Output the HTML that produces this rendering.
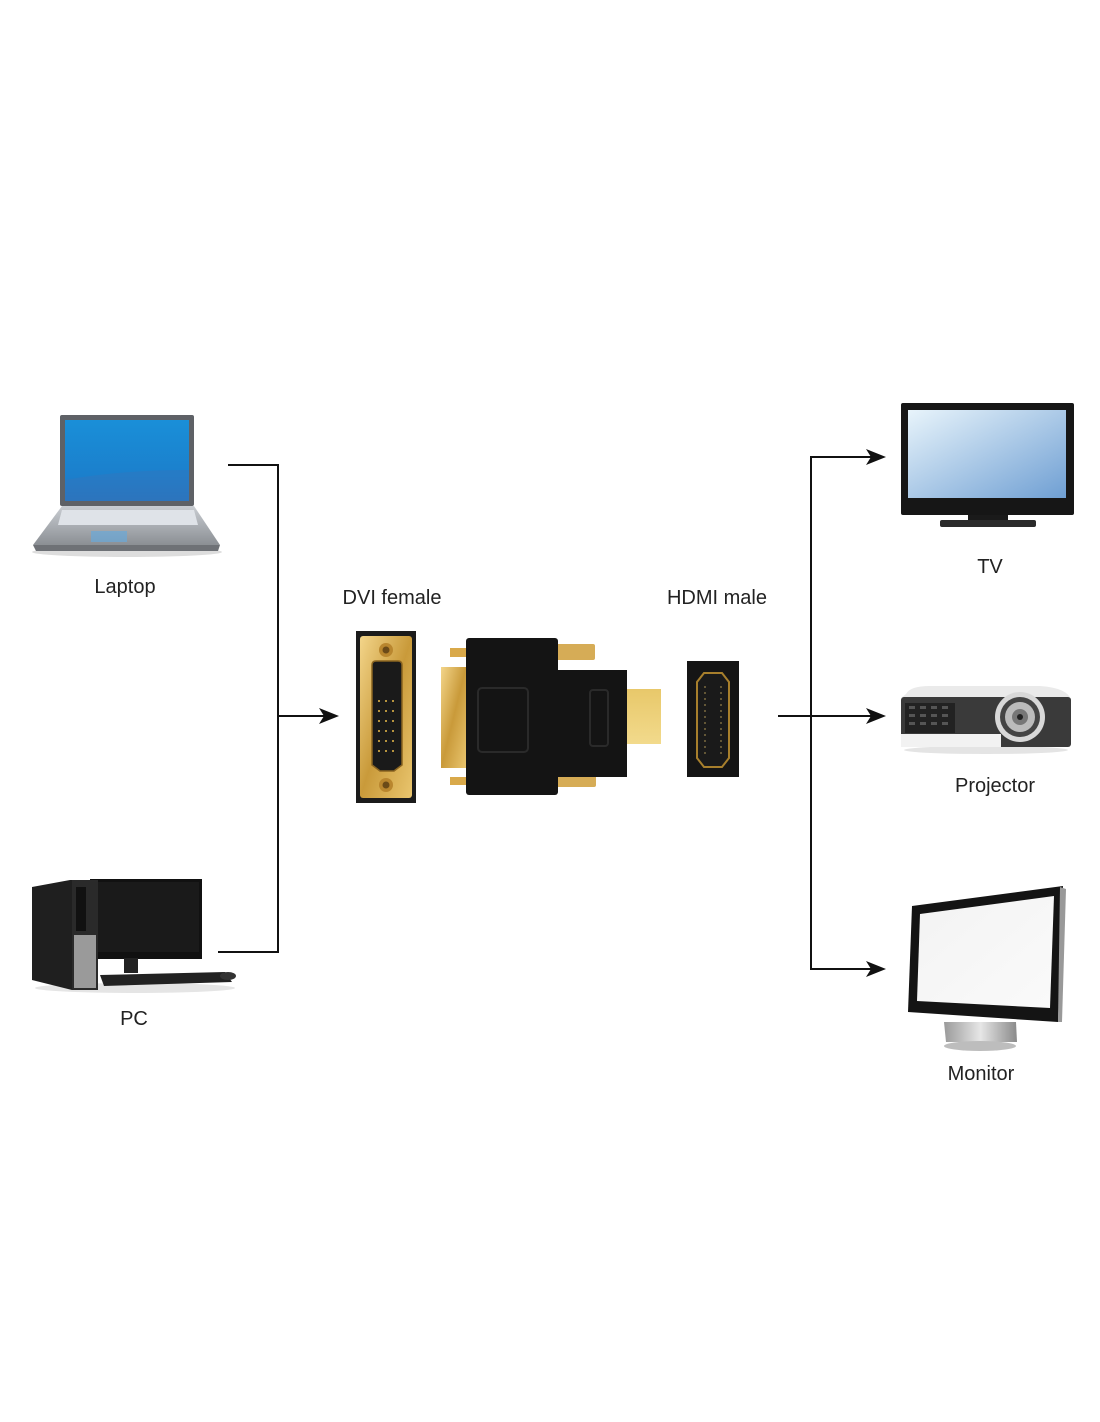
<!DOCTYPE html>
<html><head><meta charset="utf-8"><style>
html,body{margin:0;padding:0;background:#fff;}
svg{display:block;}
text{font-family:"Liberation Sans",sans-serif;font-size:20px;fill:#222;}
</style></head><body>
<svg width="1100" height="1422" viewBox="0 0 1100 1422" xmlns="http://www.w3.org/2000/svg">
<defs>
<linearGradient id="lapscr" x1="0" y1="0" x2="0" y2="1"><stop offset="0" stop-color="#1a8fd8"/><stop offset="0.7" stop-color="#1b7fcc"/><stop offset="1" stop-color="#2a6fb8"/></linearGradient>
<linearGradient id="silver" x1="0" y1="0" x2="0" y2="1"><stop offset="0" stop-color="#c9cdd2"/><stop offset="1" stop-color="#8b8f94"/></linearGradient>
<linearGradient id="tvscr" x1="0" y1="0" x2="1" y2="1"><stop offset="0" stop-color="#e8f4fb"/><stop offset="1" stop-color="#6f9fd3"/></linearGradient>
<linearGradient id="gold" x1="0" y1="0" x2="1" y2="1"><stop offset="0" stop-color="#f3d58a"/><stop offset="0.5" stop-color="#c99a3a"/><stop offset="1" stop-color="#e9c56e"/></linearGradient>
<linearGradient id="plug" x1="0" y1="0" x2="0" y2="1"><stop offset="0" stop-color="#e8c86a"/><stop offset="1" stop-color="#f2da8c"/></linearGradient>
<linearGradient id="monscr" x1="0" y1="0" x2="1" y2="1"><stop offset="0" stop-color="#f3f3f3"/><stop offset="1" stop-color="#fafafa"/></linearGradient>
<linearGradient id="stand" x1="0" y1="0" x2="1" y2="0"><stop offset="0" stop-color="#9a9a9a"/><stop offset="0.5" stop-color="#e6e6e6"/><stop offset="1" stop-color="#8a8a8a"/></linearGradient>
</defs>

<!-- connectors -->
<g stroke="#111" stroke-width="2" fill="none">
<polyline points="228,465 278,465 278,952 218,952"/>
<line x1="278" y1="716" x2="328" y2="716"/>
<line x1="778" y1="716" x2="876" y2="716"/>
<polyline points="876,457 811,457 811,969 876,969"/>
</g>
<g fill="#111">
<polygon points="339,716 319,708 324,716 319,724"/>
<polygon points="886,457 866,449 871,457 866,465"/>
<polygon points="886,716 866,708 871,716 866,724"/>
<polygon points="886,969 866,961 871,969 866,977"/>
</g>

<!-- Laptop -->
<ellipse cx="127" cy="552" rx="95" ry="5" fill="#ddd"/>
<rect x="60" y="415" width="134" height="91" rx="2" fill="#5e6166"/>
<rect x="65" y="420" width="124" height="81" fill="url(#lapscr)"/>
<path d="M65 480 Q120 470 189 470 L189 501 L65 501Z" fill="#2e78c0" opacity="0.6"/>
<polygon points="62,506 194,506 220,545 33,545" fill="url(#silver)"/>
<polygon points="33,545 220,545 218,551 36,551" fill="#6e7176"/>
<polygon points="62,510 194,510 198,525 58,525" fill="#dfe3e8"/>
<rect x="91" y="531" width="36" height="11" fill="#6aa8d8" opacity="0.7"/>

<!-- PC -->
<ellipse cx="135" cy="988" rx="100" ry="5" fill="#e5e5e5"/>
<rect x="90" y="879" width="112" height="80" fill="#111"/>
<rect x="93" y="882" width="106" height="70" fill="#1a1a1a"/>
<rect x="124" y="958" width="14" height="15" fill="#222"/>
<polygon points="100,975 225,972 232,982 104,986" fill="#222"/>
<ellipse cx="228" cy="976" rx="8" ry="4" fill="#333"/>
<polygon points="32,887 70,880 98,880 98,990 72,990 32,980" fill="#1f1f1f"/>
<rect x="72" y="880" width="26" height="110" fill="#2a2a2a"/>
<rect x="74" y="935" width="22" height="53" fill="#9a9a9a"/>
<rect x="76" y="887" width="10" height="44" fill="#111"/>

<!-- DVI female -->
<rect x="356" y="631" width="60" height="172" fill="#1b1b1b"/>
<rect x="360" y="636" width="52" height="162" rx="3" fill="url(#gold)"/>
<circle cx="386" cy="650" r="7" fill="#b9862e"/><circle cx="386" cy="650" r="3.5" fill="#6b4a18"/>
<circle cx="386" cy="785" r="7" fill="#b9862e"/><circle cx="386" cy="785" r="3.5" fill="#6b4a18"/>
<path d="M372 665 Q372 661 376 661 L398 661 Q402 661 402 665 L402 765 L394 771 L380 771 L372 765Z" fill="#1a1a1a" stroke="#8a6420" stroke-width="1.5"/>
<g fill="#b8943e">
<rect x="378" y="700" width="2" height="2"/><rect x="385" y="700" width="2" height="2"/><rect x="392" y="700" width="2" height="2"/>
<rect x="378" y="710" width="2" height="2"/><rect x="385" y="710" width="2" height="2"/><rect x="392" y="710" width="2" height="2"/>
<rect x="378" y="720" width="2" height="2"/><rect x="385" y="720" width="2" height="2"/><rect x="392" y="720" width="2" height="2"/>
<rect x="378" y="730" width="2" height="2"/><rect x="385" y="730" width="2" height="2"/><rect x="392" y="730" width="2" height="2"/>
<rect x="378" y="740" width="2" height="2"/><rect x="385" y="740" width="2" height="2"/><rect x="392" y="740" width="2" height="2"/>
<rect x="378" y="750" width="2" height="2"/><rect x="385" y="750" width="2" height="2"/><rect x="392" y="750" width="2" height="2"/>
</g>

<!-- Adapter -->
<rect x="450" y="648" width="16" height="9" fill="#d9a94a"/>
<rect x="450" y="777" width="16" height="8" fill="#d9a94a"/>
<rect x="441" y="667" width="25" height="101" fill="url(#gold)"/>
<rect x="556" y="644" width="39" height="16" rx="2" fill="#d6ac56"/>
<rect x="556" y="770" width="40" height="17" rx="2" fill="#d6ac56"/>
<rect x="627" y="689" width="34" height="55" fill="url(#plug)"/>
<rect x="550" y="670" width="77" height="107" fill="#141414"/>
<rect x="466" y="638" width="92" height="157" rx="3" fill="#141414"/>
<rect x="478" y="688" width="50" height="64" rx="4" fill="none" stroke="#2a2a2a" stroke-width="2"/>
<rect x="590" y="690" width="18" height="56" rx="3" fill="none" stroke="#2a2a2a" stroke-width="2"/>

<!-- HDMI male -->
<rect x="687" y="661" width="52" height="116" fill="#151515"/>
<path d="M704 673 L722 673 L729 682 L729 758 L722 767 L704 767 L697 758 L697 682Z" fill="#1a1a1a" stroke="#a77f2c" stroke-width="2"/>
<g stroke="#7a6a40" stroke-width="1.5">
<line x1="705" y1="686" x2="705" y2="754" stroke-dasharray="2,4"/>
<line x1="721" y1="686" x2="721" y2="754" stroke-dasharray="2,4"/>
</g>

<!-- TV -->
<rect x="901" y="403" width="173" height="112" rx="2" fill="#161616"/>
<rect x="908" y="410" width="158" height="88" fill="url(#tvscr)"/>
<rect x="968" y="515" width="40" height="6" fill="#1a1a1a"/>
<rect x="940" y="520" width="96" height="7" rx="2" fill="#2a2a2a"/>

<!-- Projector -->
<ellipse cx="986" cy="750" rx="82" ry="4" fill="#e4e4e4"/>
<path d="M906 694 Q910 686 930 686 L1040 686 Q1068 688 1071 700 L1071 698 L901 698Z" fill="#eaeaea"/>
<rect x="901" y="697" width="170" height="50" rx="3" fill="#3a3a3a"/>
<rect x="901" y="734" width="100" height="13" fill="#f2f2f2"/>
<rect x="905" y="703" width="50" height="30" fill="#222"/>
<g fill="#555">
<rect x="909" y="706" width="6" height="3"/><rect x="920" y="706" width="6" height="3"/><rect x="931" y="706" width="6" height="3"/><rect x="942" y="706" width="6" height="3"/>
<rect x="909" y="714" width="6" height="3"/><rect x="920" y="714" width="6" height="3"/><rect x="931" y="714" width="6" height="3"/><rect x="942" y="714" width="6" height="3"/>
<rect x="909" y="722" width="6" height="3"/><rect x="920" y="722" width="6" height="3"/><rect x="931" y="722" width="6" height="3"/><rect x="942" y="722" width="6" height="3"/>
</g>
<circle cx="1020" cy="717" r="25" fill="#d8d8d8"/>
<circle cx="1020" cy="717" r="20" fill="#444"/>
<circle cx="1020" cy="717" r="15" fill="#bbb"/>
<circle cx="1020" cy="717" r="8" fill="#777"/>
<circle cx="1020" cy="717" r="3" fill="#222"/>

<!-- Monitor -->
<polygon points="944,1022 1016,1022 1017,1042 946,1042" fill="url(#stand)"/>
<ellipse cx="980" cy="1046" rx="36" ry="5" fill="#bdbdbd"/>
<polygon points="912,906 1063,886 1058,1022 908,1012" fill="#141414"/>
<polygon points="1060,887 1066,889 1062,1022 1058,1022" fill="#999"/>
<polygon points="920,914 1054,896 1050,1008 917,1001" fill="url(#monscr)"/>

<!-- Labels -->
<text x="125" y="593" text-anchor="middle">Laptop</text>
<text x="134" y="1025" text-anchor="middle">PC</text>
<text x="392" y="604" text-anchor="middle">DVI female</text>
<text x="717" y="604" text-anchor="middle">HDMI male</text>
<text x="990" y="573" text-anchor="middle">TV</text>
<text x="995" y="792" text-anchor="middle">Projector</text>
<text x="981" y="1080" text-anchor="middle">Monitor</text>
</svg>
</body></html>
